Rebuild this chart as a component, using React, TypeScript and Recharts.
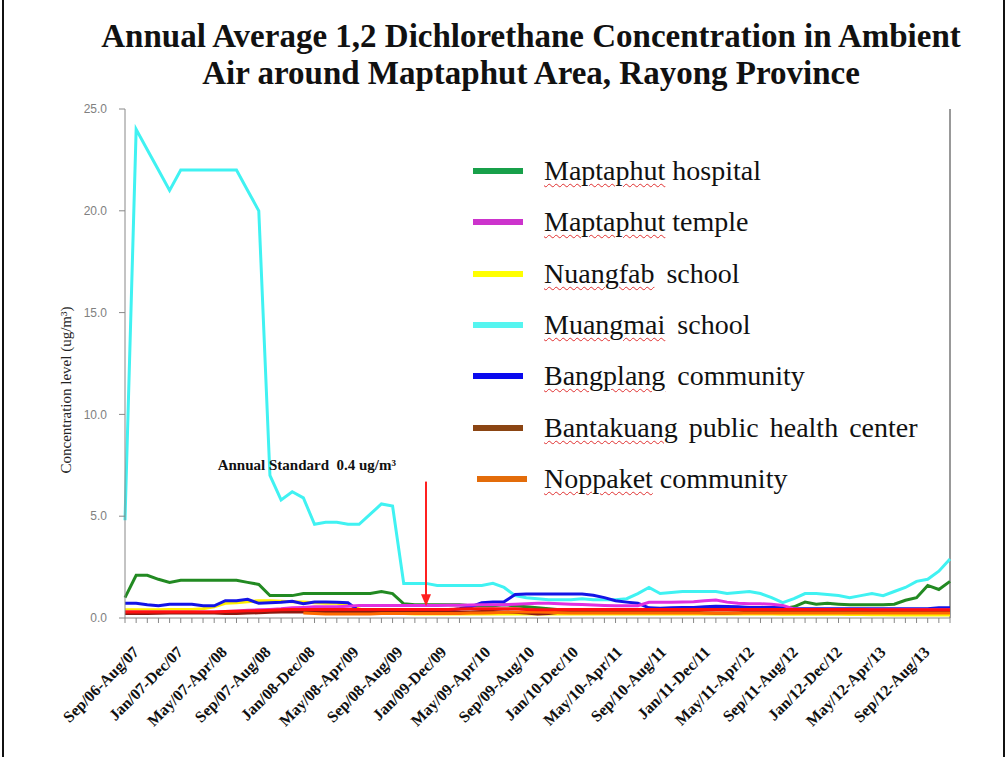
import React from 'react';
import { LineChart, Line, XAxis, YAxis, ReferenceLine } from 'recharts';

const categories = [
  'Sep/06-Aug/07','Oct/06-Sep/07','Nov/06-Oct/07','Dec/06-Nov/07','Jan/07-Dec/07','Feb/07-Jan/08','Mar/07-Feb/08','Apr/07-Mar/08',
  'May/07-Apr/08','Jun/07-May/08','Jul/07-Jun/08','Aug/07-Jul/08','Sep/07-Aug/08','Oct/07-Sep/08','Nov/07-Oct/08','Dec/07-Nov/08',
  'Jan/08-Dec/08','Feb/08-Jan/09','Mar/08-Feb/09','Apr/08-Mar/09','May/08-Apr/09','Jun/08-May/09','Jul/08-Jun/09','Aug/08-Jul/09',
  'Sep/08-Aug/09','Oct/08-Sep/09','Nov/08-Oct/09','Dec/08-Nov/09','Jan/09-Dec/09','Feb/09-Jan/10','Mar/09-Feb/10','Apr/09-Mar/10',
  'May/09-Apr/10','Jun/09-May/10','Jul/09-Jun/10','Aug/09-Jul/10','Sep/09-Aug/10','Oct/09-Sep/10','Nov/09-Oct/10','Dec/09-Nov/10',
  'Jan/10-Dec/10','Feb/10-Jan/11','Mar/10-Feb/11','Apr/10-Mar/11','May/10-Apr/11','Jun/10-May/11','Jul/10-Jun/11','Aug/10-Jul/11',
  'Sep/10-Aug/11','Oct/10-Sep/11','Nov/10-Oct/11','Dec/10-Nov/11','Jan/11-Dec/11','Feb/11-Jan/12','Mar/11-Feb/12','Apr/11-Mar/12',
  'May/11-Apr/12','Jun/11-May/12','Jul/11-Jun/12','Aug/11-Jul/12','Sep/11-Aug/12','Oct/11-Sep/12','Nov/11-Oct/12','Dec/11-Nov/12',
  'Jan/12-Dec/12','Feb/12-Jan/13','Mar/12-Feb/13','Apr/12-Mar/13','May/12-Apr/13','Jun/12-May/13','Jul/12-Jun/13','Aug/12-Jul/13',
  'Sep/12-Aug/13','Oct/12-Sep/13','Nov/12-Oct/13',
];

const tickLabels = [
  'Sep/06-Aug/07','Jan/07-Dec/07','May/07-Apr/08','Sep/07-Aug/08','Jan/08-Dec/08','May/08-Apr/09','Sep/08-Aug/09',
  'Jan/09-Dec/09','May/09-Apr/10','Sep/09-Aug/10','Jan/10-Dec/10','May/10-Apr/11','Sep/10-Aug/11','Jan/11-Dec/11',
  'May/11-Apr/12','Sep/11-Aug/12','Jan/12-Dec/12','May/12-Apr/13','Sep/12-Aug/13',
];

const yTicks = [0, 5, 10, 15, 20, 25];

const hospital = [
  1.0, 2.1, 2.1, 1.9, 1.75, 1.85, 1.85, 1.85, 1.85, 1.85, 1.85, 1.75, 1.65, 1.1, 1.1, 1.1,
  1.2, 1.2, 1.2, 1.2, 1.2, 1.2, 1.2, 1.3, 1.2, 0.7, 0.65, 0.65, 0.65, 0.65, 0.65, 0.6,
  0.6, 0.6, 0.65, 0.6, 0.55, 0.5, 0.45, 0.4, 0.35, 0.3, 0.25, 0.25, 0.3, 0.3, 0.25, 0.3,
  0.35, 0.4, 0.4, 0.4, 0.45, 0.45, 0.45, 0.45, 0.5, 0.5, 0.5, 0.45, 0.55, 0.78, 0.68, 0.72,
  0.68, 0.65, 0.65, 0.65, 0.65, 0.68, 0.87, 1.0, 1.6, 1.4, 1.8,
];

const temple = [
  0.3, 0.3, 0.3, 0.3, 0.3, 0.3, 0.3, 0.3, 0.3, 0.32, 0.35, 0.38, 0.4, 0.42, 0.45, 0.5,
  0.52, 0.55, 0.55, 0.55, 0.58, 0.62, 0.62, 0.62, 0.62, 0.62, 0.62, 0.62, 0.62, 0.63, 0.63, 0.64,
  0.65, 0.65, 0.65, 0.68, 0.7, 0.72, 0.72, 0.7, 0.68, 0.66, 0.64, 0.62, 0.6, 0.6, 0.6, 0.77,
  0.77, 0.77, 0.78, 0.8, 0.85, 0.88, 0.78, 0.72, 0.7, 0.7, 0.68, 0.62, 0.45, 0.4, 0.4, 0.4,
  0.4, 0.4, 0.4, 0.4, 0.4, 0.4, 0.4, 0.4, 0.4, 0.4, 0.4,
];

const nuangfab = [
  0.4, 0.4, 0.4, 0.4, 0.42, 0.42, 0.42, 0.45, 0.55, 0.72, 0.75, 0.8, 0.85, 0.85, 0.82, 0.8,
  0.78, 0.75, 0.72, 0.72, 0.65, 0.45, 0.3, 0.28, 0.25, 0.22, 0.2, 0.2, 0.2, 0.2, 0.2, 0.2,
  0.2, 0.2, 0.2, 0.2, 0.2, 0.2, 0.2, 0.2, 0.2, 0.2, 0.2, 0.2, 0.2, 0.2, 0.2, 0.2,
  0.2, 0.2, 0.2, 0.2, 0.2, 0.2, 0.2, 0.2, 0.2, 0.2, 0.2, 0.18, 0.18, 0.18, 0.18, 0.18,
  0.18, 0.17, 0.17, 0.16, 0.16, 0.15, 0.15, 0.15, 0.15, 0.15, 0.15,
];

const muangmai = [
  4.8, 24.0, 23.0, 22.0, 21.0, 22.0, 22.0, 22.0, 22.0, 22.0, 22.0, 21.0, 20.0, 7.0, 5.8, 6.2,
  5.9, 4.6, 4.7, 4.7, 4.6, 4.6, 5.1, 5.6, 5.5, 1.7, 1.7, 1.7, 1.6, 1.6, 1.6, 1.6,
  1.6, 1.7, 1.5, 1.1, 1.0, 0.95, 0.9, 0.9, 0.9, 0.95, 0.9, 0.9, 0.9, 0.95, 1.2, 1.5,
  1.2, 1.25, 1.3, 1.3, 1.3, 1.3, 1.2, 1.25, 1.3, 1.2, 1.0, 0.75, 0.95, 1.2, 1.2, 1.15,
  1.1, 1.0, 1.1, 1.2, 1.1, 1.3, 1.5, 1.8, 1.9, 2.3, 2.9,
];

const bangplang = [
  0.72, 0.72, 0.65, 0.6, 0.68, 0.68, 0.68, 0.6, 0.6, 0.85, 0.85, 0.92, 0.72, 0.75, 0.77, 0.82,
  0.7, 0.78, 0.78, 0.77, 0.75, 0.35, 0.35, 0.35, 0.35, 0.35, 0.35, 0.35, 0.35, 0.38, 0.45, 0.55,
  0.75, 0.78, 0.8, 1.15, 1.18, 1.18, 1.18, 1.18, 1.18, 1.18, 1.12, 1.0, 0.85, 0.78, 0.72, 0.5,
  0.48, 0.5, 0.52, 0.52, 0.55, 0.58, 0.57, 0.55, 0.52, 0.52, 0.52, 0.5, 0.45, 0.45, 0.45, 0.45,
  0.45, 0.45, 0.45, 0.45, 0.45, 0.45, 0.45, 0.45, 0.45, 0.5, 0.5,
];

const bantakuang = [
  0.22, 0.22, 0.22, 0.23, 0.24, 0.24, 0.25, 0.25, 0.24, 0.22, 0.22, 0.24, 0.26, 0.28, 0.3, 0.3,
  0.3, 0.3, 0.3, 0.3, 0.3, 0.3, 0.3, 0.3, 0.3, 0.3, 0.3, 0.3, 0.3, 0.3, 0.3, 0.3,
  0.32, 0.32, 0.3, 0.28, 0.25, 0.2, 0.22, 0.28, 0.3, 0.3, 0.3, 0.3, 0.3, 0.3, 0.3, 0.3,
  0.3, 0.3, 0.3, 0.28, 0.26, 0.25, 0.25, 0.26, 0.28, 0.3, 0.3, 0.3, 0.3, 0.3, 0.3, 0.3,
  0.3, 0.3, 0.3, 0.3, 0.3, 0.3, 0.3, 0.3, 0.3, 0.3, 0.3,
];

const noppaket = [
  null, null, null, null, null, null, null, null, null, null, null, null, null, null, null, null,
  0.25, 0.22, 0.2, 0.2, 0.2, 0.2, 0.2, 0.22, 0.22, 0.22, 0.22, 0.22, 0.22, 0.22, 0.22, 0.24,
  0.25, 0.26, 0.28, 0.3, 0.3, 0.3, 0.28, 0.26, 0.25, 0.25, 0.25, 0.25, 0.25, 0.25, 0.25, 0.25,
  0.25, 0.25, 0.25, 0.25, 0.25, 0.25, 0.25, 0.25, 0.25, 0.25, 0.25, 0.25, 0.25, 0.25, 0.25, 0.25,
  0.25, 0.25, 0.25, 0.25, 0.25, 0.25, 0.25, 0.25, 0.25, 0.25, 0.25,
];

const otherSite = [
  0.3, 0.3, 0.3, 0.3, 0.3, 0.3, 0.3, 0.3, 0.3, 0.32, 0.33, 0.35, 0.36, 0.38, 0.4, 0.42,
  0.42, 0.42, 0.42, 0.42, 0.42, 0.42, 0.42, 0.42, 0.42, 0.42, 0.42, 0.42, 0.42, 0.42, 0.44, 0.45,
  0.45, 0.45, 0.45, 0.45, 0.42, 0.4, 0.4, 0.42, 0.42, 0.42, 0.42, 0.42, 0.42, 0.42, 0.42, 0.42,
  0.42, 0.42, 0.42, 0.42, 0.42, 0.42, 0.42, 0.42, 0.42, 0.42, 0.42, 0.42, 0.42, 0.42, 0.42, 0.42,
  0.42, 0.42, 0.42, 0.4, 0.4, 0.4, 0.4, 0.4, 0.4, 0.4, 0.4,
];

const data = categories.map((label, i) => ({
  label,
  hospital: hospital[i],
  temple: temple[i],
  nuangfab: nuangfab[i],
  muangmai: muangmai[i],
  bangplang: bangplang[i],
  bantakuang: bantakuang[i],
  noppaket: noppaket[i],
  other: otherSite[i],
}));

const seriesOrder = [
  { key: 'muangmai', color: '#40F2F2' },
  { key: 'hospital', color: '#228A22' },
  { key: 'nuangfab', color: '#FFEE00' },
  { key: 'bangplang', color: '#1414E6' },
  { key: 'temple', color: '#E030E0' },
  { key: 'bantakuang', color: '#8B1A10' },
  { key: 'noppaket', color: '#FF6A00' },
  { key: 'other', color: '#FF1010' },
];

const legendItems = [
  { first: 'Maptaphut', rest: ' hospital', color: '#18A04A', dx: 0, ws: 0 },
  { first: 'Maptaphut', rest: ' temple', color: '#CC33CC', dx: 0, ws: 0 },
  { first: 'Nuangfab', rest: ' school', color: '#FFFF00', dx: 0, ws: 5 },
  { first: 'Muangmai', rest: ' school', color: '#55F5F0', dx: 0, ws: 5 },
  { first: 'Bangplang', rest: ' community', color: '#0A0AEE', dx: 0, ws: 5 },
  { first: 'Bantakuang', rest: ' public health center', color: '#8B4513', dx: 0, ws: 4 },
  { first: 'Noppaket', rest: ' community', color: '#E36C0A', dx: 4, ws: 0 },
];

const XTick = (props: any) => {
  const { x, y, payload } = props;
  if (!tickLabels.includes(payload.value)) return null;
  const idx = categories.indexOf(payload.value);
  // label slots are slightly narrower than the tick spacing in the original
  const ax = x + 15 - idx / 6;
  const ay = y + 28;
  return (
    <text
      x={ax}
      y={ay}
      transform={`rotate(-45, ${ax}, ${ay})`}
      textAnchor="end"
      fontFamily="'Liberation Serif', 'Times New Roman', serif"
      fontWeight="bold"
      fontSize={16}
      fill="#111"
    >
      {payload.value}
    </text>
  );
};

const ArrowShape = (props: any) => {
  const { x1, y1, x2, y2 } = props;
  const top = Math.min(y1, y2);
  const tip = Math.max(y1, y2);
  return (
    <g>
      <line x1={x1} y1={top} x2={x2} y2={tip - 10} stroke="#FF2020" strokeWidth={2} />
      <polygon points={`${x2 - 5},${tip - 12} ${x2 + 5},${tip - 12} ${x2},${tip}`} fill="#FF2020" />
      <text
        x={x1 - 30}
        y={top - 12}
        textAnchor="end"
        fontFamily="'Liberation Serif', 'Times New Roman', serif"
        fontWeight="bold"
        fontSize={15}
        fill="#111"
        style={{ whiteSpace: 'pre' }}
      >
        {'Annual Standard  0.4 ug/m³'}
      </text>
    </g>
  );
};

export default function App() {
  return (
    <div style={{ position: 'absolute', left: 0, top: 0, width: 1007, height: 757, background: '#fff', overflow: 'hidden' }}>
      <div style={{ position: 'absolute', left: 2, top: 0, width: 2, height: 757, background: '#111' }} />
      <div style={{ position: 'absolute', left: 1003, top: 0, width: 2, height: 757, background: '#111' }} />
      <div
        style={{
          position: 'absolute', left: 60, top: 18, width: 942, textAlign: 'center',
          fontFamily: "'Liberation Serif', 'Times New Roman', serif", fontWeight: 'bold',
          fontSize: 33, lineHeight: '37px', color: '#111', whiteSpace: 'nowrap',
        }}
      >
        Annual Average 1,2 Dichlorethane Concentration in Ambient
        <br />
        Air around Maptaphut Area, Rayong Province
      </div>
      <div
        style={{
          position: 'absolute', left: 66, top: 390, transform: 'translate(-50%, -50%) rotate(-90deg)',
          whiteSpace: 'nowrap', fontFamily: "'Liberation Serif', 'Times New Roman', serif",
          fontSize: 15, color: '#222',
        }}
      >
        Concentration level (ug/m³)
      </div>
      <div style={{ position: 'absolute', left: 0, top: 0 }}>
        <LineChart width={1007} height={757} data={data} margin={{ top: 109, right: 57, bottom: 0, left: 0 }}>
          <XAxis
            dataKey="label"
            interval={0}
            height={139}
            tickSize={5}
            axisLine={{ stroke: '#888' }}
            tickLine={{ stroke: '#888' }}
            tick={<XTick />}
          />
          <YAxis
            domain={[0, 25]}
            ticks={yTicks}
            width={125}
            tickSize={6}
            tickMargin={12}
            axisLine={{ stroke: '#888' }}
            tickLine={{ stroke: '#888' }}
            tickFormatter={(v: number) => v.toFixed(1)}
            tick={{ fill: '#808080', fontSize: 12, fontFamily: "'Liberation Sans', Arial, sans-serif" }}
          />
          <ReferenceLine x={categories[categories.length - 1]} stroke="#999" strokeWidth={2} />
          {seriesOrder.map((s) => (
            <Line
              key={s.key}
              type="linear"
              dataKey={s.key}
              stroke={s.color}
              strokeWidth={3}
              dot={false}
              activeDot={false}
              isAnimationActive={false}
              connectNulls={false}
            />
          ))}
          <ReferenceLine
            segment={[{ x: categories[27], y: 6.7 }, { x: categories[27], y: 0.58 }]}
            shape={ArrowShape}
          />
        </LineChart>
      </div>
      {legendItems.map((it, i) => {
        const cy = 171 + 51.3 * i;
        return (
          <React.Fragment key={i}>
            <div style={{ position: 'absolute', left: 473 + it.dx, top: cy - 3, width: 50, height: 6, background: it.color }} />
            <div
              style={{
                position: 'absolute', left: 544, top: cy - 14, height: 28, lineHeight: '28px', whiteSpace: 'pre',
                fontFamily: "'Liberation Serif', 'Times New Roman', serif", fontSize: 28, color: '#111',
                wordSpacing: it.ws,
              }}
            >
              <span style={{ textDecoration: 'underline wavy #E03030', textDecorationThickness: '1px', textUnderlineOffset: '3px' }}>
                {it.first}
              </span>
              {it.rest}
            </div>
          </React.Fragment>
        );
      })}
    </div>
  );
}
